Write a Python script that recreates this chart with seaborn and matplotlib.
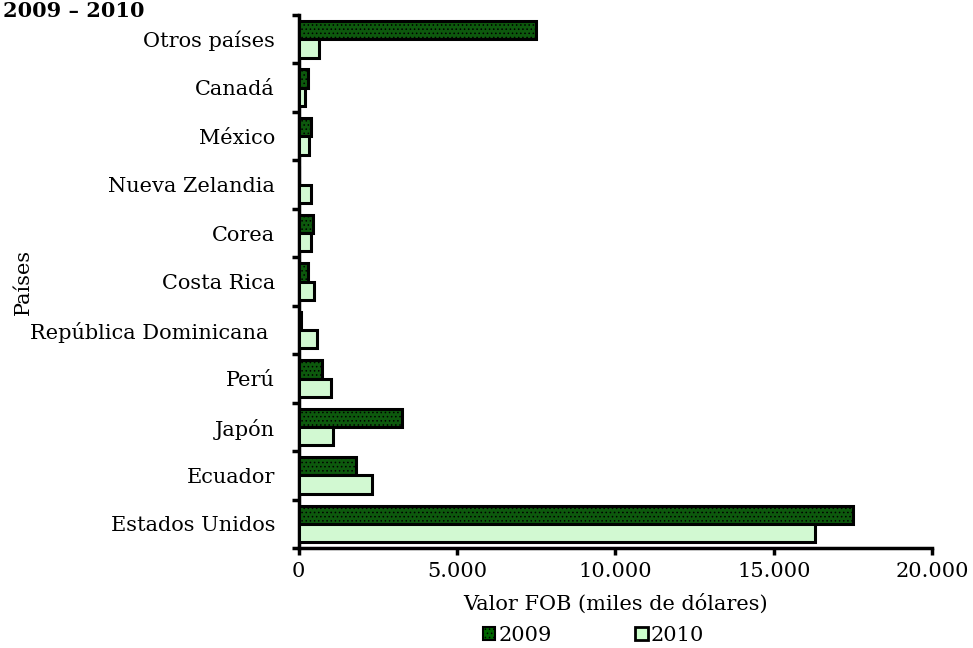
import numpy as np
import pandas as pd
import matplotlib
matplotlib.use("Agg")
import matplotlib.pyplot as plt
import seaborn as sns
from matplotlib.patches import Patch

# Data (miles de dólares FOB)
paises = ["Otros países", "Canadá", "México", "Nueva Zelandia", "Corea",
          "Costa Rica", "República Dominicana ", "Perú", "Japón", "Ecuador",
          "Estados Unidos"]
valores_2009 = [7500, 300, 400, 20, 450, 280, 60, 750, 3250, 1800, 17500]
valores_2010 = [630, 200, 330, 400, 400, 470, 580, 1030, 1080, 2300, 16300]
anios = ["2009", "2010"]

df = pd.DataFrame({
    "Países": paises * 2,
    "Valor": valores_2009 + valores_2010,
    "Año": [anios[0]] * len(paises) + [anios[1]] * len(paises),
})

sns.set_style("white")
plt.rcParams["font.family"] = ["DejaVu Serif"]
plt.rcParams["text.color"] = "black"
plt.rcParams["axes.labelcolor"] = "black"
plt.rcParams["xtick.color"] = "black"
plt.rcParams["ytick.color"] = "black"
plt.rcParams["hatch.color"] = "#003300"
plt.rcParams["hatch.linewidth"] = 0.6

colores = {"2009": "#006600", "2010": "#CCFFCC"}
fs = 15

fig = plt.figure(figsize=(9.73, 6.48), dpi=100)
ax = fig.add_axes([0.307, 0.154, 0.651, 0.823])

sns.barplot(
    data=df, x="Valor", y="Países", hue="Año", order=paises,
    hue_order=anios, palette=colores, orient="h", width=0.76,
    edgecolor="black", linewidth=2.2, legend=False, ax=ax
)

# dotted texture on the 2009 bars
for bar in ax.containers[0]:
    bar.set_hatch("....")
for c in ax.containers:
    for bar in c:
        bar.set_zorder(3)

ax.set_xlim(0, 20000)
ax.set_ylim(len(paises) - 0.5, -0.5)
ax.set_xticks([0, 5000, 10000, 15000, 20000])
ax.set_xticklabels(["0", "5.000", "10.000", "15.000", "20.000"], fontsize=fs)

# ticks between categories, labels centred
ax.set_yticks(np.arange(len(paises)))
ax.set_yticklabels(paises, fontsize=fs)
ax.set_yticks(np.arange(len(paises) + 1) - 0.5, minor=True)
ax.tick_params(axis="y", which="major", left=True, length=0, pad=17)
ax.tick_params(axis="y", which="minor", left=True, length=5, width=2.5, direction="out")
ax.tick_params(axis="x", which="major", bottom=True, length=5, width=2.5,
               direction="out", pad=5)

for s in ["top", "right"]:
    ax.spines[s].set_visible(False)
for s in ["left", "bottom"]:
    ax.spines[s].set_linewidth(2.5)
    ax.spines[s].set_color("black")

ax.set_xlabel("Valor FOB (miles de dólares)", fontsize=fs, labelpad=9)
ax.set_ylabel("Países", fontsize=fs)
ax.yaxis.set_label_coords(-0.42, 0.5)

fig.text(0.003, 1 - 17 / 648, "2009 – 2010", ha="left", va="baseline",
         fontsize=15, fontweight="bold")

handles = [Patch(facecolor=colores["2009"], edgecolor="black", hatch="....", linewidth=1.5),
           Patch(facecolor=colores["2010"], edgecolor="black", linewidth=2)]
fig.legend(handles, anios, loc="center", bbox_to_anchor=(0.61, 0.02), ncol=2,
           frameon=False, fontsize=fs, handlelength=0.6, handleheight=0.6,
           handletextpad=0.15, columnspacing=4.0, borderpad=0)

fig.savefig("out.png", dpi=100)
